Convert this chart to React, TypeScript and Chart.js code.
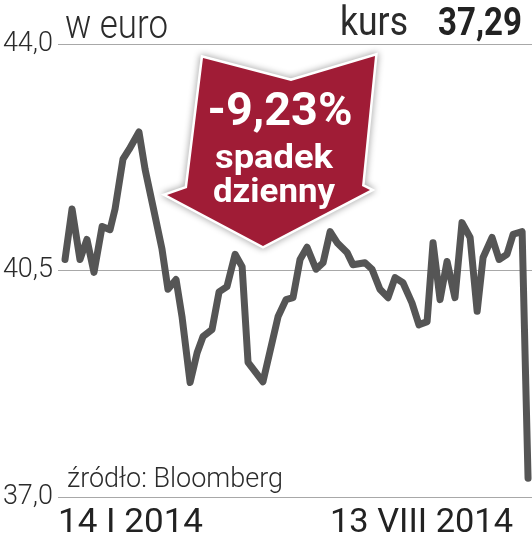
import React, { useEffect, useRef } from "react";
import { Chart, registerables } from "chart.js";

Chart.register(...registerables);

// days since 14 I 2014
const days = [
  0, 3.2, 6.8, 10, 13.2, 16.9, 20.5, 22.8, 26.4, 29.2, 33.7, 36.5, 40.1, 44.2, 46.9, 50.6, 53.3, 57, 60.2, 62.9,
  67, 70.2, 73.8, 77.5, 80.7, 83.4, 90.2, 97.1, 100.7, 103.9, 107.1, 110.3, 114.4, 117.6, 120.8, 124, 128.5, 131.2,
  136.7, 139.9, 143.5, 147.2, 150.4, 154, 158.1, 161.3, 165, 167.7, 170.9, 174.1, 177.7, 180.9, 184.6, 187.8, 190.5,
  194.6, 197.8, 201.4, 204.2, 208.3, 211,
];
const prices = [
  40.67, 41.45, 40.67, 40.98, 40.47, 41.18, 41.13, 41.45, 42.22, 42.37, 42.64, 42.06, 41.49, 40.83, 40.21, 40.36,
  39.79, 38.77, 39.23, 39.48, 39.59, 40.17, 40.25, 40.75, 40.56, 39.08, 38.78, 39.79, 40.05, 40.08, 40.67, 40.86,
  40.52, 40.62, 41.1, 40.93, 40.78, 40.59, 40.62, 40.52, 40.21, 40.08, 40.39, 40.31, 40.0, 39.66, 39.71, 40.93,
  40.05, 40.64, 40.08, 41.24, 41.01, 39.87, 40.7, 41.01, 40.67, 40.75, 41.06, 41.1, 37.29,
];
const yTicks = [37, 40.5, 44];
const startLabel = "14 I 2014";
const endLabel = "13 VIII 2014";
const unitLabel = "w euro";
const kursLabel = "kurs";
const kursValue = "37,29";
const sourceLabel = "źródło: Bloomberg";
const arrowLines = ["-9,23%", "spadek", "dzienny"];

function fitText(
  ctx: CanvasRenderingContext2D,
  text: string,
  x: number,
  y: number,
  width: number,
  font: string,
  color: string,
  align: "left" | "center" = "left"
) {
  ctx.save();
  ctx.font = font;
  ctx.fillStyle = color;
  ctx.textBaseline = "alphabetic";
  ctx.textAlign = "left";
  const w = ctx.measureText(text).width;
  const s = width / w;
  const left = align === "center" ? x - width / 2 : x;
  ctx.translate(left, y);
  ctx.scale(s, 1);
  ctx.fillText(text, 0, 0);
  ctx.restore();
}

const decorPlugin = {
  id: "decor",
  afterDatasetsDraw(chart: any) {
    const ctx: CanvasRenderingContext2D = chart.ctx;
    // arrow
    ctx.save();
    ctx.beginPath();
    const pts = [
      [203, 58],
      [291, 81],
      [375, 56],
      [362, 186],
      [370, 190],
      [263, 246],
      [167, 195],
      [187, 188],
    ];
    pts.forEach(([px, py], i) => (i === 0 ? ctx.moveTo(px, py) : ctx.lineTo(px, py)));
    ctx.closePath();
    ctx.shadowColor = "rgba(0,0,0,0.45)";
    ctx.shadowBlur = 7;
    ctx.fillStyle = "#ffffff";
    ctx.strokeStyle = "#ffffff";
    ctx.lineWidth = 5;
    ctx.lineJoin = "miter";
    ctx.stroke();
    ctx.shadowColor = "transparent";
    ctx.fillStyle = "#a01c36";
    ctx.fill();
    ctx.restore();

    fitText(ctx, arrowLines[0], 280, 125, 145, "bold 46px Roboto", "#ffffff", "center");
    fitText(ctx, arrowLines[1], 274, 168, 118, "bold 33px Roboto", "#ffffff", "center");
    fitText(ctx, arrowLines[2], 274, 202, 122, "bold 33px Roboto", "#ffffff", "center");

    // titles
    fitText(ctx, unitLabel, 65, 38, 103, "300 40px Roboto", "#2b2b2b");
    fitText(ctx, kursLabel, 340, 35, 68, "400 40px Roboto", "#2b2b2b");
    fitText(ctx, kursValue, 438, 35, 84, "bold 39px Roboto", "#222222");
    fitText(ctx, sourceLabel, 67, 487, 216, "300 28px Roboto", "#2b2b2b");
    fitText(ctx, startLabel, 58, 532, 145, "400 34px Roboto", "#222222");
    fitText(ctx, endLabel, 330, 532, 183, "400 34px Roboto", "#222222");
  },
};

export default function App() {
  const ref = useRef<HTMLCanvasElement>(null);
  useEffect(() => {
    if (!ref.current) return;
    const chart = new Chart(ref.current, {
      type: "line",
      data: {
        datasets: [
          {
            data: days.map((d, i) => ({ x: d, y: prices[i] })),
            borderColor: "#555555",
            borderWidth: 7,
            pointRadius: 0,
            tension: 0,
            borderJoinStyle: "round",
            borderCapStyle: "round",
            fill: false,
          },
        ],
      },
      options: {
        animation: false,
        responsive: false,
        devicePixelRatio: 1,
        layout: { padding: { top: 44, bottom: 46, left: 0, right: 0 } },
        plugins: { legend: { display: false }, tooltip: { enabled: false }, title: { display: false } },
        scales: {
          x: { type: "linear", min: -3.2, max: 212.8, display: false },
          y: {
            min: 37,
            max: 44,
            afterFit: (axis: any) => {
              axis.width = 58;
            },
            afterBuildTicks: (axis: any) => {
              axis.ticks = yTicks.map((v) => ({ value: v }));
            },
            border: { display: false },
            grid: { color: "#a8a8a8", lineWidth: 1, drawTicks: false },
            ticks: {
              padding: 5,
              color: "#2b2b2b",
              font: { family: "Roboto", size: 27, weight: "300" },
              callback: (v: any) => Number(v).toFixed(1).replace(".", ","),
            },
          },
        },
      },
      plugins: [decorPlugin],
    });
    return () => chart.destroy();
  }, []);
  return (
    <div style={{ position: "fixed", left: 0, top: 0, width: 532, height: 543, background: "#fff" }}>
      <canvas ref={ref} width={532} height={543} />
    </div>
  );
}
